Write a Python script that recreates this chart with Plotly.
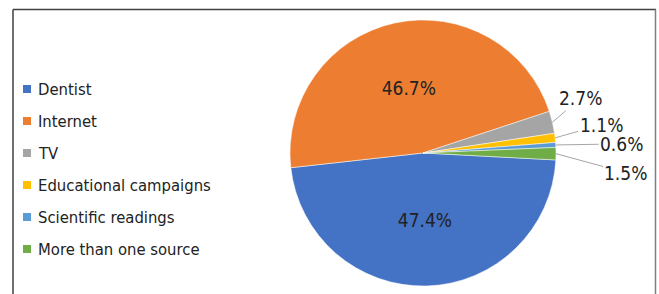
import math
import plotly.graph_objects as go

labels = ["Dentist", "Internet", "TV", "Educational campaigns", "Scientific readings", "More than one source"]
values = [47.4, 46.7, 2.7, 1.1, 0.6, 1.5]
colors = ["#4472C4", "#ED7D31", "#A5A5A5", "#FFC000", "#5B9BD5", "#70AD47"]
inside = [True, True, False, False, False, False]
# pixel offsets of the outside labels from the slice edge (layout only)
label_offsets = [None, None, (28, -24), (46, -13), (66, -1), (70, 19)]

FONT = "Liberation Sans Narrow, DejaVu Sans Condensed, Arial Narrow, sans-serif"
W, H = 659, 294
cx, cy, r = 423, 153, 133
ROT = 93

fig = go.Figure(go.Pie(
    labels=labels, values=values, sort=False, direction="clockwise", rotation=ROT,
    marker=dict(colors=colors, line=dict(color="white", width=0.5)),
    texttemplate=["%{value:.1f}%" if s else "" for s in inside],
    textposition=["inside" if s else "none" for s in inside],
    insidetextfont=dict(family=FONT, size=19, color="#222222"),
    hoverinfo="label+value",
    domain=dict(x=[(cx - r) / W, (cx + r) / W], y=[(H - cy - r) / H, (H - cy + r) / H]),
    showlegend=False,
))

# outside labels with leader lines, positioned from the slice mid-angles
total = sum(values)
cum = 0.0
for v, s, off in zip(values, inside, label_offsets):
    mid = cum + v / 2
    cum += v
    if s:
        continue
    ang = math.radians(ROT + 360 * mid / total)
    px = cx + r * math.sin(ang)
    py = cy - r * math.cos(ang)
    fig.add_annotation(xref="paper", yref="paper", x=px / W, y=1 - py / H,
                       ax=off[0], ay=off[1], text=f"{v:.1f}%", showarrow=True,
                       arrowhead=0, arrowwidth=1, arrowcolor="#A6A6A6", standoff=0,
                       font=dict(family=FONT, size=19, color="#222222"))

# legend built from the category list
for i, (lab, col) in enumerate(zip(labels, colors)):
    y = 89 + 32 * i
    fig.add_shape(type="rect", xref="paper", yref="paper",
                  x0=23 / W, x1=31 / W, y0=1 - (y + 4) / H, y1=1 - (y - 4) / H,
                  fillcolor=col, line=dict(width=0))
    fig.add_annotation(xref="paper", yref="paper", x=36 / W, y=1 - y / H,
                       xanchor="left", yanchor="middle", text=lab, showarrow=False,
                       font=dict(family=FONT, size=16.5, color="#222222"))

# frame
fig.add_shape(type="line", xref="paper", yref="paper", x0=13 / W, x1=656 / W,
              y0=1 - 9.5 / H, y1=1 - 9.5 / H, line=dict(color="#404040", width=1.5))
fig.add_shape(type="line", xref="paper", yref="paper", x0=13 / W, x1=13 / W,
              y0=1 - 9.5 / H, y1=0, line=dict(color="#404040", width=1.5))
fig.add_shape(type="line", xref="paper", yref="paper", x0=655.5 / W, x1=655.5 / W,
              y0=1 - 9.5 / H, y1=0, line=dict(color="#808080", width=1.5))

fig.update_layout(width=W, height=H, margin=dict(l=0, r=0, t=0, b=0),
                  paper_bgcolor="white", plot_bgcolor="white")
fig.write_html("out.html", config={"displayModeBar": False},
               post_script="document.body.style.margin='0';document.body.style.overflow='hidden';")
